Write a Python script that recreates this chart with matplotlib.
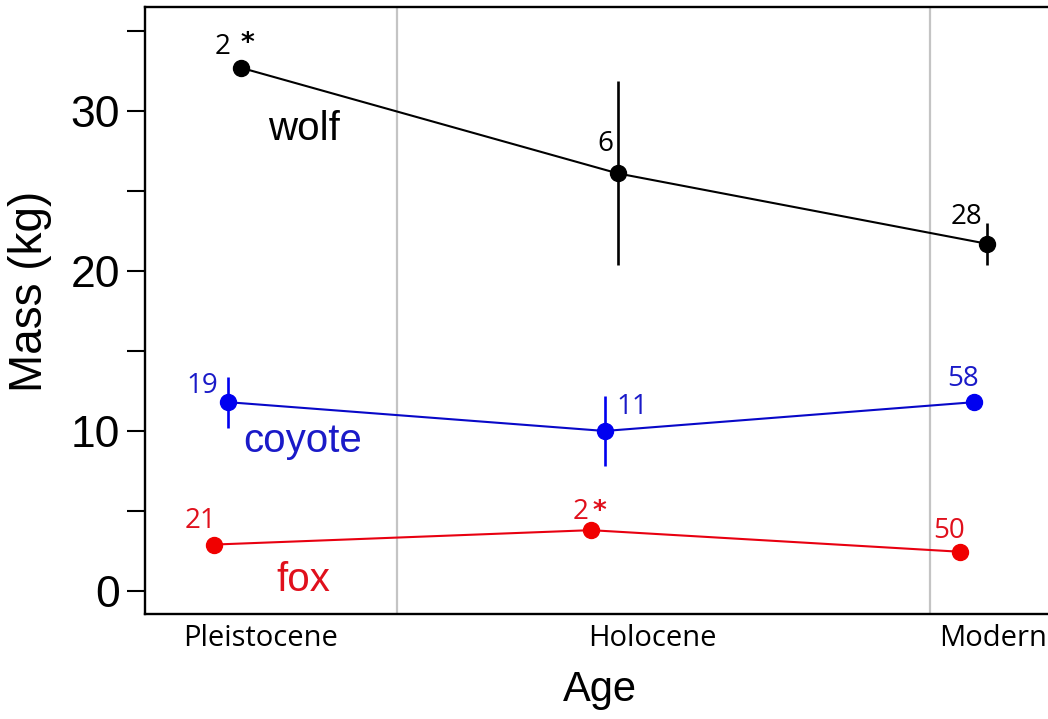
import matplotlib
matplotlib.use("Agg")
import matplotlib.pyplot as plt

# data
ages = ["Pleistocene", "Holocene", "Modern"]
age_pos = [0, 1.01, 2]
species = ["wolf", "coyote", "fox"]

wolf_mass = [32.7, 26.1, 21.7]
wolf_err = [0.0, 5.75, 1.3]
wolf_n = ["2", "6", "28"]

coyote_mass = [11.8, 10.0, 11.8]
coyote_err = [1.6, 2.2, 0.45]
coyote_n = ["19", "11", "58"]

fox_mass = [2.9, 3.8, 2.45]
fox_err = [0.0, 0.0, 0.0]
fox_n = ["21", "2", "50"]

# which sample sizes carry an asterisk
starred = {("wolf", 0), ("fox", 1)}

# styling
colors = {"wolf": "black", "coyote": "#0000f0", "fox": "#f00000"}
line_colors = {"wolf": "black", "coyote": "#0808c8", "fox": "#e80010"}
text_colors = {"wolf": "black", "coyote": "#1a1ac8", "fox": "#e0101c"}
dodge = {"wolf": 0.035, "coyote": 0.0, "fox": -0.037}
# offsets of the n labels from their point, in pixels (dx, dy up)
n_offsets = {
    "wolf": [(-18, 21), (-12, 29), (-21, 27)],
    "coyote": [(-26, 16), (28, 24), (-11, 23)],
    "fox": [(-14, 24), (-10, 18), (-11, 21)],
}
star_offsets = {"wolf": (6, 24), "fox": (8, 18)}
name_pos = {"wolf": (0.205, 28.9), "coyote": (0.2, 9.35), "fox": (0.202, 0.7)}

mass = {"wolf": wolf_mass, "coyote": coyote_mass, "fox": fox_mass}
err = {"wolf": wolf_err, "coyote": coyote_err, "fox": fox_err}
ns = {"wolf": wolf_n, "coyote": coyote_n, "fox": fox_n}

px = 72.0 / 100.0  # pixels -> points at dpi 100

fig = plt.figure(figsize=(10.48, 7.19), dpi=100)
ax = fig.add_axes([145 / 1048, 1 - 614 / 719, (1062 - 145) / 1048, 607 / 719])

for xg in [0.453, 1.882]:
    ax.axvline(xg, color="#c4c4c4", lw=1.6, zorder=0)

for sp in species:
    xs = [p + dodge[sp] for p in age_pos]
    ax.plot(xs, mass[sp], color=line_colors[sp], lw=1.5, zorder=2)
    for i in range(len(ages)):
        if err[sp][i] > 0:
            ax.errorbar(xs[i], mass[sp][i], yerr=err[sp][i], color=colors[sp],
                        elinewidth=1.9, capsize=0, fmt="none", zorder=2)
    ax.plot(xs, mass[sp], "o", color=colors[sp], ms=11.5, zorder=3)
    for i in range(len(ages)):
        dx, dy = n_offsets[sp][i]
        ax.annotate(ns[sp][i], (xs[i], mass[sp][i]), xytext=(dx * px, dy * px),
                    textcoords="offset points", ha="center", va="center",
                    fontsize=20, family="Open Sans", color=text_colors[sp])
        if (sp, i) in starred:
            sx, sy = star_offsets[sp]
            ax.annotate("*", (xs[i], mass[sp][i]), xytext=(sx * px, sy * px),
                        textcoords="offset points", ha="center", va="center",
                        fontsize=19, fontweight="bold", family="DejaVu Sans",
                        color=text_colors[sp])
    nx, ny = name_pos[sp]
    ax.text(nx, ny, sp, ha="center", va="center", fontsize=29,
            family="Liberation Sans", color=text_colors[sp])

ax.set_xlim(-0.2225, 2.236)
ax.set_ylim(-1.44, 36.5)

ax.set_xticks([0.088, 1.139, 2.05])
ax.set_xticklabels(ages, family="Open Sans", fontsize=21)
ax.tick_params(axis="x", length=0, pad=7)

ax.set_yticks([0, 5, 10, 15, 20, 25, 30, 35])
ax.set_yticklabels(["0", "", "10", "", "20", "", "30", ""],
                   family="Liberation Sans", fontsize=32)
ax.tick_params(axis="y", length=13, width=1.5, pad=5)

for s in ["left", "bottom", "top", "right"]:
    ax.spines[s].set_linewidth(1.7)

fig.text(30 / 1048, 1 - 291 / 719, "Mass (kg)", rotation=90, ha="center",
         va="center", fontsize=33, family="Liberation Sans")
fig.text(600 / 1048, 1 - 690 / 719, "Age", ha="center", va="center",
         fontsize=30, family="Liberation Sans")

plt.savefig("out.png", dpi=100)
plt.close()
